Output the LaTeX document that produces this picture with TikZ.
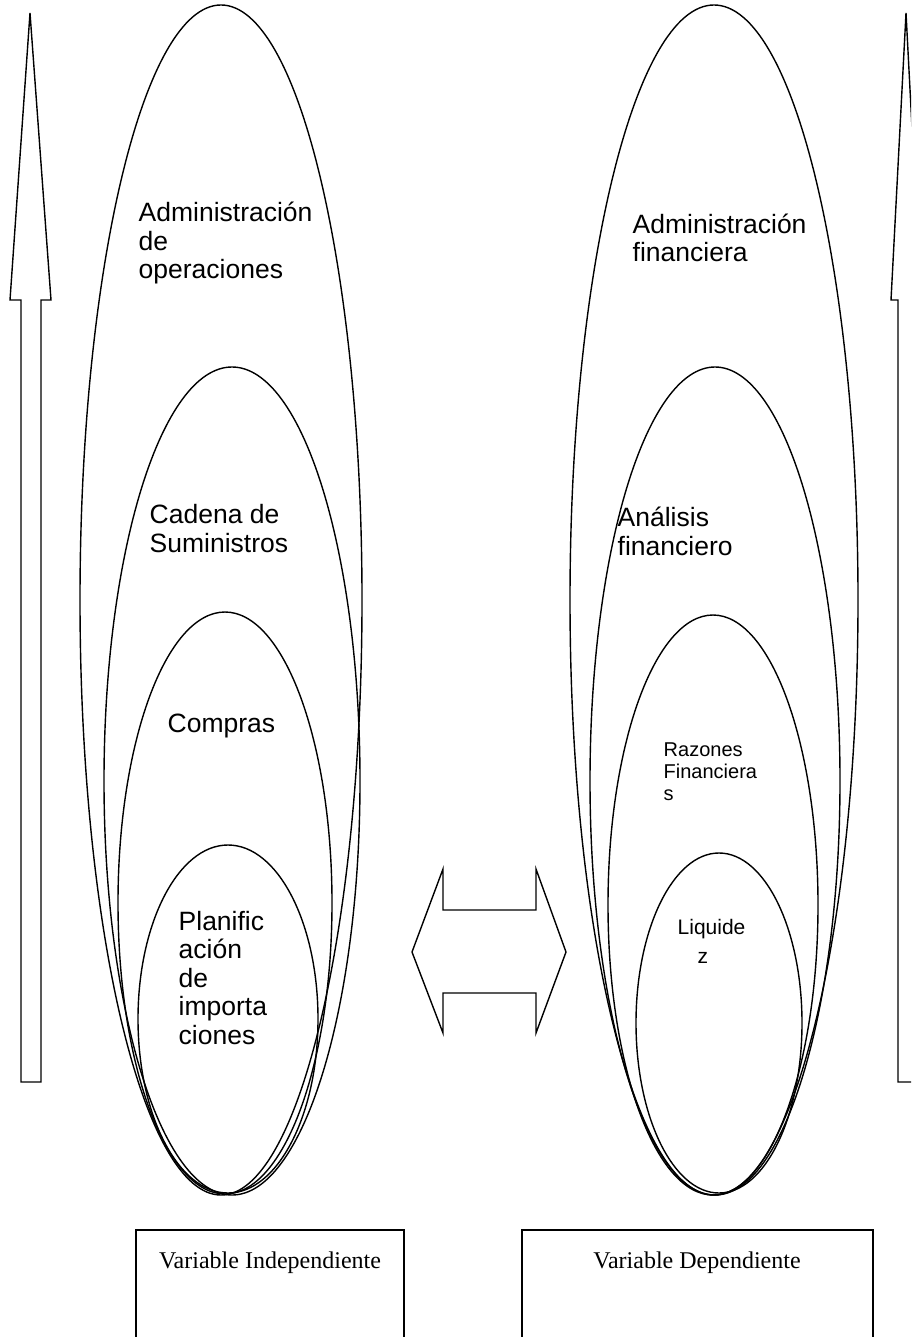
\documentclass[tikz,border=0pt]{standalone}
\usepackage{fontspec}
\setmainfont{Liberation Serif}
\newfontfamily\arialf{Liberation Sans}
\begin{document}
\begin{tikzpicture}[x=1pt,y=-1pt,line width=1.4pt,line join=miter,
  lbl/.style={font=\arialf\fontsize{26.5}{28.5}\selectfont,anchor=base west,align=left,inner sep=0pt},
  smalllbl/.style={font=\arialf\fontsize{20}{22}\selectfont,anchor=base west,align=left,inner sep=0pt},
  boxlbl/.style={font=\fontsize{24}{28}\selectfont,anchor=base,inner sep=0pt}]
\useasboundingbox (0,0) rectangle (911,1337);
\clip (0,0) rectangle (911,1337);
% left vertical arrow
\draw (30,13) -- (51,300) -- (41,300) -- (41,1082) -- (21,1082) -- (21,300) -- (10,300) -- cycle;
% right vertical arrow (clipped)
\draw (906,13) -- (921,300) -- (914,300) -- (914,1082) -- (898,1082) -- (898,300) -- (891,300) -- cycle;
% left ellipses
\draw (221,600) ellipse [x radius=141pt, y radius=595pt];
\draw (232,781) ellipse [x radius=128pt, y radius=414pt];
\draw (225,903) ellipse [x radius=107pt, y radius=291pt];
\draw (228,1019) ellipse [x radius=90pt, y radius=174pt];
% right ellipses
\draw (714,600) ellipse [x radius=144pt, y radius=595pt];
\draw (715,781) ellipse [x radius=125pt, y radius=414pt];
\draw (713,905) ellipse [x radius=105pt, y radius=290pt];
\draw (719,1023) ellipse [x radius=83pt, y radius=170pt];
% double arrow
\draw (412,952) -- (443,869) -- (443,910) -- (536,910) -- (536,869) -- (566,952)
  -- (536,1033) -- (536,993) -- (443,993) -- (443,1033) -- cycle;
% labels left (base = last line)
\node[lbl] (adop) at (138,279) {Administración\\de\\operaciones};
\node[lbl] (cad) at (149,552) {Cadena de\\Suministros};
\node[lbl] (comp) at (167,732) {Compras};
\node[lbl] (plan) at (178,1044) {Planific\\ación\\de\\importa\\ciones};
% labels right
\node[lbl] (adfin) at (632,262) {Administración\\financiera};
\node[lbl] (anal) at (617,555) {Análisis\\financiero};
\node[smalllbl] (raz) at (663,800) {Razones\\Financiera\\s};
\node[font=\arialf\fontsize{21}{29}\selectfont,anchor=base west,align=left,inner sep=0pt] (liq) at (677,963) {Liquide\\\hspace*{20pt}z};
% bottom boxes
\draw (136,1345) -- (136,1230) -- (404,1230) -- (404,1345);
\draw (522,1345) -- (522,1230) -- (873,1230) -- (873,1345);
\node[boxlbl] (vi) at (270,1268) {Variable Independiente};
\node[boxlbl] (vd) at (697,1268) {Variable Dependiente};
\end{tikzpicture}
\end{document}
